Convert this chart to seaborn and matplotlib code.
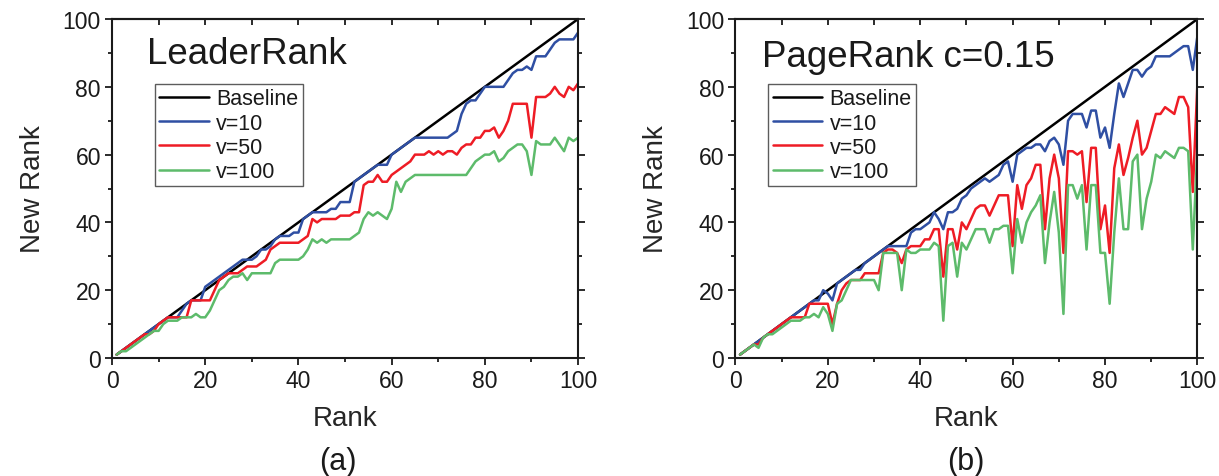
import matplotlib
matplotlib.use('Agg')
import matplotlib.pyplot as plt
import seaborn as sns
import pandas as pd

# x axis: rank 1..100
rank = list(range(1, 101))
baseline = list(range(1, 101))

# (a) LeaderRank
lr_v10 = [1, 2, 3, 4, 5, 6, 7, 8, 9, 10, 11, 12, 12, 12, 14, 16, 17, 17, 17, 21,
          22, 23, 24, 25, 26, 27, 28, 29, 29, 29, 30, 32, 32, 33, 35, 36, 36, 36, 37, 37,
          41, 42, 43, 43, 43, 43, 44, 44, 46, 46, 46, 52, 53, 54, 55, 56, 57, 57, 57, 60,
          61, 62, 63, 64, 65, 65, 65, 65, 65, 65, 65, 65, 66, 67, 72, 75, 76, 76, 78, 80,
          80, 80, 80, 80, 82, 84, 85, 85, 86, 85, 89, 89, 89, 91, 93, 94, 94, 94, 94, 96]
lr_v50 = [1, 2, 3, 4, 5, 6, 7, 7, 8, 10, 11, 12, 12, 12, 12, 12, 17, 17, 17, 17,
          17, 20, 23, 24, 25, 25, 25, 26, 27, 27, 27, 28, 29, 32, 33, 34, 34, 34, 34, 34,
          35, 36, 41, 40, 41, 41, 41, 41, 42, 42, 42, 43, 43, 51, 52, 52, 54, 52, 52, 54,
          55, 56, 57, 58, 60, 60, 60, 61, 60, 61, 60, 61, 61, 60, 62, 63, 63, 65, 65, 67,
          67, 68, 65, 67, 70, 75, 75, 75, 75, 65, 77, 77, 77, 78, 80, 78, 77, 80, 79, 81]
lr_v100 = [1, 2, 2, 3, 4, 5, 6, 7, 8, 8, 10, 11, 11, 11, 12, 12, 12, 13, 12, 12,
           14, 17, 20, 21, 23, 24, 24, 25, 23, 25, 25, 25, 25, 25, 28, 29, 29, 29, 29, 29,
           30, 32, 35, 34, 35, 34, 35, 35, 35, 35, 35, 36, 37, 41, 43, 42, 43, 42, 41, 44,
           52, 49, 52, 53, 54, 54, 54, 54, 54, 54, 54, 54, 54, 54, 54, 54, 56, 58, 59, 60,
           60, 61, 58, 59, 61, 62, 63, 63, 61, 54, 64, 63, 63, 63, 65, 63, 61, 65, 64, 65]

# (b) PageRank c=0.15
pr_v10 = [1, 2, 3, 4, 5, 6, 7, 8, 9, 10, 11, 12, 13, 14, 15, 16, 17, 17, 20, 19,
          17, 22, 23, 24, 25, 26, 26, 28, 29, 30, 31, 32, 33, 33, 33, 33, 33, 37, 38, 38,
          39, 40, 43, 41, 38, 43, 43, 44, 47, 48, 50, 51, 52, 53, 52, 53, 54, 57, 58, 52,
          60, 61, 62, 62, 63, 63, 61, 64, 65, 63, 57, 70, 72, 72, 72, 68, 73, 73, 65, 68,
          62, 72, 81, 77, 81, 85, 85, 83, 85, 86, 89, 89, 89, 89, 90, 91, 92, 92, 85, 95]
pr_v50 = [1, 2, 3, 4, 4, 6, 7, 8, 9, 10, 11, 12, 12, 12, 12, 16, 16, 16, 16, 16,
          10, 16, 20, 22, 23, 23, 23, 25, 25, 25, 25, 31, 32, 32, 31, 28, 32, 33, 33, 33,
          35, 35, 38, 38, 24, 38, 38, 32, 40, 38, 41, 44, 45, 45, 42, 45, 48, 48, 48, 33,
          51, 44, 51, 53, 57, 57, 38, 53, 60, 53, 31, 61, 61, 60, 61, 46, 62, 62, 38, 45,
          31, 56, 63, 54, 59, 65, 70, 60, 62, 67, 72, 72, 74, 73, 72, 77, 77, 74, 49, 81]
pr_v100 = [1, 2, 3, 4, 3, 6, 7, 7, 8, 9, 10, 11, 11, 11, 12, 12, 13, 12, 15, 13,
           8, 16, 17, 20, 23, 23, 23, 23, 23, 23, 20, 31, 31, 31, 31, 20, 32, 31, 31, 32,
           32, 32, 34, 33, 11, 33, 34, 24, 34, 32, 35, 38, 38, 38, 34, 38, 38, 39, 39, 25,
           41, 34, 40, 43, 45, 48, 28, 40, 49, 37, 13, 51, 51, 47, 51, 32, 51, 51, 31, 31,
           16, 37, 53, 38, 38, 58, 60, 38, 47, 52, 60, 59, 61, 60, 59, 62, 62, 61, 32, 62]

series_names = ['Baseline', 'v=10', 'v=50', 'v=100']
colors = ['#000000', '#2f4fa3', '#ee1c25', '#5dbb6b']


def make_df(cols):
    frames = []
    for name, vals in zip(series_names, cols):
        frames.append(pd.DataFrame({'Rank': rank, 'New Rank': vals, 'series': name}))
    return pd.concat(frames, ignore_index=True)


sns.set_style('ticks')
plt.rcParams['font.family'] = ['Liberation Sans', 'DejaVu Sans']
plt.rcParams['text.color'] = '#1a1a1a'

fig = plt.figure(figsize=(12.19, 4.77), dpi=100)
ax_a = fig.add_axes([0.0919, 0.2474, 0.3823, 0.7106])
ax_b = fig.add_axes([0.6033, 0.2474, 0.3790, 0.7106])

panels = [
    (ax_a, [baseline, lr_v10, lr_v50, lr_v100], 'LeaderRank', 0.075, 0.897, 0.092),
    (ax_b, [baseline, pr_v10, pr_v50, pr_v100], 'PageRank c=0.15', 0.058, 0.888, 0.071),
]

for ax, cols, title, tx, ty, lx in panels:
    df = make_df(cols)
    sns.lineplot(data=df, x='Rank', y='New Rank', hue='series', palette=colors,
                 linewidth=1.8, ax=ax, legend=True)
    ax.set_xlim(0, 100)
    ax.set_ylim(0, 100)
    ax.set_xticks(range(0, 101, 20))
    ax.set_yticks(range(0, 101, 20))
    ax.set_xticks(range(10, 100, 20), minor=True)
    ax.set_yticks(range(10, 100, 20), minor=True)
    ax.tick_params(which='major', direction='out', length=5, width=1.3,
                   labelsize=16.5, colors='#1a1a1a', pad=3)
    ax.tick_params(which='minor', direction='out', length=3, width=1.3,
                   colors='#1a1a1a')
    ax.tick_params(which='both', right=True)
    # top axis: inward ticks, no labels
    top = ax.secondary_xaxis('top')
    top.set_xticks(range(0, 101, 10))
    top.tick_params(direction='in', length=4, width=1.3, labeltop=False,
                    colors='#1a1a1a')
    top.spines['top'].set_linewidth(1.5)
    top.spines['top'].set_color('#1a1a1a')
    for sp in ax.spines.values():
        sp.set_visible(True)
        sp.set_linewidth(1.5)
        sp.set_color('#1a1a1a')
    ax.set_xlabel('Rank', fontsize=20, labelpad=9)
    ax.set_ylabel('New Rank', fontsize=20, labelpad=12)
    ax.text(tx, ty, title, transform=ax.transAxes, fontsize=26.5, va='center',
            ha='left')
    leg = ax.legend(loc='upper left', bbox_to_anchor=(lx, 0.808), fontsize=15.5,
                    frameon=True, fancybox=False, edgecolor='#333333',
                    handlelength=2.3, handletextpad=0.35, labelspacing=0.15,
                    borderpad=0.2, borderaxespad=0)
    leg.get_frame().set_linewidth(1.0)
    for line in leg.get_lines():
        line.set_linewidth(1.8)

fig.text(0.277, 0.031, '(a)', fontsize=22, ha='center', va='center')
fig.text(0.792, 0.031, '(b)', fontsize=22, ha='center', va='center')

fig.savefig('out.png', dpi=100)
